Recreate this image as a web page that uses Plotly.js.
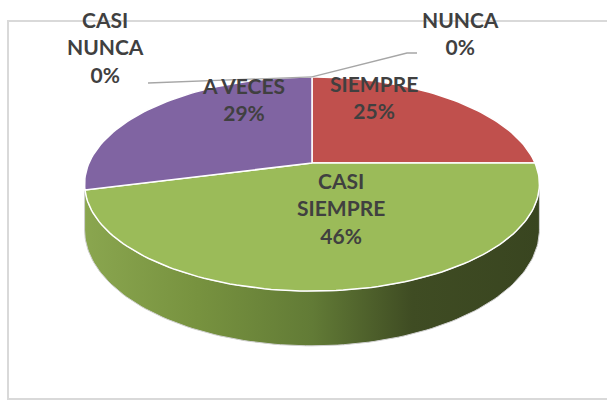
<!DOCTYPE html>
<html>
<head>
<meta charset="utf-8">
<script src="https://cdn.plot.ly/plotly-3.0.1.min.js"></script>
<style>html,body{margin:0;padding:0;background:#fff;}#chart{width:607px;height:402px;}</style>
</head>
<body>
<div id="chart"></div>
<script>
// ---- data ----
var labels = ["SIEMPRE", "CASI SIEMPRE", "A VECES", "CASI NUNCA", "NUNCA"];
var values = [25, 46, 29, 0, 0];
var colors = ["#c0504d", "#9bbb59", "#8064a2", "#4bacc6", "#f79646"];
var wrapLabel = [false, true, false, true, false];

// ---- geometry / style (pixel space of the page) ----
var X0 = 312, Y0 = 163;      // projected pie centre
var A = 223, B = 103;        // horizontal / depth radii
var C = 0.196;               // perspective factor
var H = 44;                  // wall thickness
var labelPos = [[374, 97], [340.5, 208], [243, 99], [105, 47], [460, 33]];
var leaderEnds = [null, null, null, [[148, 83]], [[407, 53], [417, 53]]];

function proj(u, v, dz) {
  var w = 1 - C * v;
  return [X0 + A * u / w, Y0 + B * v / w + (dz || 0) / w];
}
function ptFrac(f, dz) {
  var a = 2 * Math.PI * f;
  return proj(Math.sin(a), -Math.cos(a), dz);
}

var total = values.reduce(function (s, v) { return s + v; }, 0);
var traces = [];

// side wall (front visible arc)
var t0 = Math.asin(C);
var wx = [], wy = [], N = 120, i, t, p;
for (i = 0; i <= N; i++) {
  t = t0 + (Math.PI - 2 * t0) * i / N;
  p = proj(Math.cos(t), Math.sin(t), 0); wx.push(p[0]); wy.push(p[1]);
}
for (i = N; i >= 0; i--) {
  t = t0 + (Math.PI - 2 * t0) * i / N;
  p = proj(Math.cos(t), Math.sin(t), H); wx.push(p[0]); wy.push(p[1]);
}
wx.push(wx[0]); wy.push(wy[0]);
traces.push({
  type: "scatter", mode: "lines", x: wx, y: wy, fill: "toself",
  line: {color: "#d0d0d0", width: 1},
  fillgradient: {type: "horizontal", colorscale: [
    [0, "#8aa64f"], [0.25, "#77923f"], [0.5, "#627b36"], [0.72, "#3f4c23"], [1, "#394520"]]},
  hoverinfo: "skip", showlegend: false
});

// top face slices
var cum = 0;
values.forEach(function (v, k) {
  var f0 = cum / total, f1 = (cum + v) / total;
  cum += v;
  if (v <= 0) return;
  var xs = [X0], ys = [Y0], n = Math.max(4, Math.ceil((f1 - f0) * 240));
  for (var j = 0; j <= n; j++) {
    var q = ptFrac(f0 + (f1 - f0) * j / n, 0);
    xs.push(q[0]); ys.push(q[1]);
  }
  xs.push(X0); ys.push(Y0);
  traces.push({
    type: "scatter", mode: "lines", x: xs, y: ys, fill: "toself",
    fillcolor: colors[k], line: {color: "#ffffff", width: 1.5},
    hoverinfo: "skip", showlegend: false
  });
});

// leader lines for zero slices
cum = 0;
var annotations = [];
values.forEach(function (v, k) {
  var fm = (cum + v / 2) / total;
  cum += v;
  if (leaderEnds[k]) {
    var a = ptFrac(fm, 0), lx = [a[0]], ly = [a[1]];
    leaderEnds[k].forEach(function (e) { lx.push(e[0]); ly.push(e[1]); });
    traces.push({type: "scatter", mode: "lines", x: lx, y: ly,
      line: {color: "#a6a6a6", width: 1.3}, hoverinfo: "skip", showlegend: false});
  }
  var name = wrapLabel[k] ? labels[k].replace(" ", "<br>") : labels[k];
  var pct = Math.round(v / total * 100) + "%";
  annotations.push({
    x: labelPos[k][0], y: labelPos[k][1], xref: "x", yref: "y",
    text: name + "<br>" + pct, showarrow: false,
    xanchor: "center", yanchor: "middle", align: "center",
    font: {family: "Lato, 'Open Sans', sans-serif", size: 21, color: "#404040", weight: "bold"}
  });
});

var layout = {
  width: 607, height: 402,
  margin: {l: 0, r: 0, t: 0, b: 0, pad: 0},
  paper_bgcolor: "#ffffff", plot_bgcolor: "#ffffff",
  xaxis: {range: [0, 607], visible: false, fixedrange: true},
  yaxis: {range: [402, 0], visible: false, fixedrange: true},
  shapes: [{type: "rect", xref: "x", yref: "y", x0: 8, y0: 21, x1: 612, y1: 399,
    line: {color: "#d9d9d9", width: 2}, fillcolor: "rgba(0,0,0,0)", layer: "below"}],
  annotations: annotations,
  showlegend: false
};

Plotly.newPlot("chart", traces, layout, {staticPlot: true, displayModeBar: false});
</script>
</body>
</html>
